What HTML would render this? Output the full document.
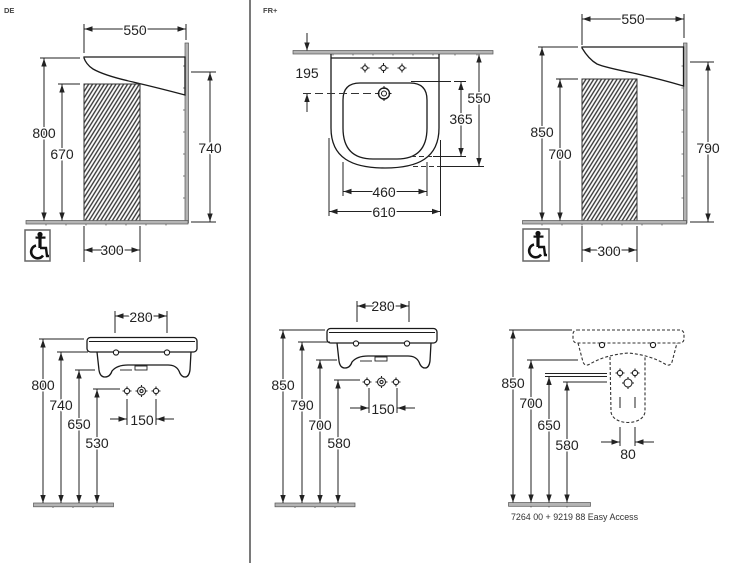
<!DOCTYPE html>
<html><head><meta charset="utf-8"><style>
html,body{margin:0;padding:0;background:#fff;}
svg{display:block;}
.t{font-family:"Liberation Sans",Arial,sans-serif;font-size:14px;fill:#222;text-anchor:middle;stroke:#fff;stroke-width:3px;paint-order:stroke;stroke-linejoin:round;}
.s{font-family:"Liberation Sans",Arial,sans-serif;font-size:7.5px;fill:#444;font-weight:bold;}
.d{stroke:#222;stroke-width:1;fill:none;}
.o{stroke:#1a1a1a;stroke-width:1.3;fill:none;}
.bar{fill:#b4b4b4;stroke:#555;stroke-width:0.7;}
.dash{stroke:#333;stroke-width:1.1;fill:none;stroke-dasharray:3 2;}
.tk{stroke:#555;stroke-width:0.8;fill:none;}
</style></head><body>
<svg width="750" height="563" viewBox="0 0 750 563" xmlns="http://www.w3.org/2000/svg">
<defs>
<marker id="a" viewBox="0 0 8 6" refX="8" refY="3" markerWidth="8" markerHeight="6" markerUnits="userSpaceOnUse" orient="auto-start-reverse"><path d="M0,0.3 L8,3 L0,5.7 z" fill="#222"/></marker>
<pattern id="h" width="3.3" height="10" patternUnits="userSpaceOnUse" patternTransform="rotate(32)"><rect width="3.3" height="10" fill="#fff"/><line x1="1" y1="0" x2="1" y2="10" stroke="#333" stroke-width="1.35"/></pattern>
</defs>

<!-- separator -->
<line x1="250" y1="0" x2="250" y2="563" stroke="#7a7a7a" stroke-width="2"/>

<!-- ================= TOP LEFT (DE) ================= -->
<text class="s" x="4" y="13">DE</text>
<line class="d" x1="84" y1="24" x2="84" y2="53"/>
<line class="d" x1="186" y1="24" x2="186" y2="40"/>
<line class="d" x1="84.5" y1="29" x2="185.5" y2="29" marker-start="url(#a)" marker-end="url(#a)"/>
<text class="t" x="135" y="35">550</text>

<rect class="bar" x="185" y="43" width="3.5" height="180"/>
<path class="tk" d="M185,66h-2M185,88h-2M185,110h-2M185,132h-2M185,154h-2M185,176h-2M185,198h-2"/>
<path class="o" fill="#fff" d="M84,57 L185,57 L185,95 C170,91 150,86 133,82 C115,78 100,73 93,69 C88,66 85,61 84,58 Z"/>
<rect x="84" y="84" width="56" height="137" fill="url(#h)" stroke="#333" stroke-width="1"/>
<rect class="bar" x="26" y="220.5" width="162" height="3.5"/>
<path class="tk" d="M46,224v1.5M66,224v1.5M86,224v1.5M106,224v1.5M126,224v1.5M146,224v1.5M166,224v1.5"/>

<line class="d" x1="40" y1="58" x2="80" y2="58"/>
<line class="d" x1="44" y1="58.5" x2="44" y2="220.5" marker-start="url(#a)" marker-end="url(#a)"/>
<text class="t" x="44" y="138">800</text>
<line class="d" x1="58" y1="84" x2="80" y2="84"/>
<line class="d" x1="62" y1="84.5" x2="62" y2="220.5" marker-start="url(#a)" marker-end="url(#a)"/>
<text class="t" x="62" y="159">670</text>
<line class="d" x1="191" y1="72" x2="216" y2="72"/>
<line class="d" x1="191" y1="222" x2="216" y2="222"/>
<line class="d" x1="210" y1="72.5" x2="210" y2="221.5" marker-start="url(#a)" marker-end="url(#a)"/>
<text class="t" x="210" y="153">740</text>
<line class="d" x1="84" y1="226" x2="84" y2="262"/>
<line class="d" x1="140" y1="226" x2="140" y2="262"/>
<line class="d" x1="84.5" y1="250" x2="139.5" y2="250" marker-start="url(#a)" marker-end="url(#a)"/>
<text class="t" x="112" y="255">300</text>

<g transform="translate(25,230)">
<rect x="0" y="0" width="25" height="31" fill="#fff" stroke="#666" stroke-width="1.5"/>
<circle cx="15" cy="4.5" r="2.6" fill="#111"/>
<rect x="10.5" y="6.5" width="10" height="2.2" fill="#111"/>
<line x1="15" y1="8" x2="15" y2="18" stroke="#111" stroke-width="3.2"/>
<path d="M15,18 H21 L22,26 H24" stroke="#111" stroke-width="2.4" fill="none"/>
<path d="M11,15.5 A6.5,6.5 0 1 0 18,25.5" stroke="#111" stroke-width="2.6" fill="none"/>
</g>

<!-- ================= TOP MIDDLE (FR+) ================= -->
<text class="s" x="263" y="13">FR+</text>
<rect class="bar" x="293" y="50.5" width="200" height="3.5"/>
<path class="tk" d="M333,54v1.5M353,54v1.5M373,54v1.5M393,54v1.5M413,54v1.5M433,54v1.5M455,54v1.5M477,54v1.5"/>
<path class="o" fill="#fff" d="M331,54 L331,128 C331,158 352,168 385,168 C418,168 439,158 439,128 L439,54"/>
<line class="o" x1="331" y1="58" x2="439" y2="58"/>
<g stroke="#222" stroke-width="1.1" fill="none">
<circle cx="365" cy="68" r="2.3"/><path d="M365,63.5v2M365,70.5v2M360.5,68h2M367.5,68h2"/>
<circle cx="383.5" cy="68" r="2.6"/><path d="M383.5,63v2.2M383.5,70.8v2.2M378.5,68h2.2M386.3,68h2.2"/>
<circle cx="402" cy="68" r="2.3"/><path d="M402,63.5v2M402,70.5v2M397.5,68h2M404.5,68h2"/>
</g>
<path class="o" d="M360,83 L410,83 Q427,83 427,100 L427,128 Q427,159 397,159 L373,159 Q343,159 343,128 L343,100 Q343,83 360,83 Z"/>
<circle cx="384" cy="93.5" r="5.5" fill="#fff" stroke="#1a1a1a" stroke-width="1.4"/>
<circle cx="384" cy="93.5" r="2.5" fill="none" stroke="#1a1a1a" stroke-width="1"/>
<path d="M384,86v3M384,98v3M376.5,93.5h3M388.5,93.5h3" stroke="#1a1a1a" stroke-width="1"/>
<line x1="303" y1="93.5" x2="377" y2="93.5" stroke="#333" stroke-width="1.1" stroke-dasharray="8 4"/>

<line class="d" x1="307" y1="33" x2="307" y2="50.5" marker-end="url(#a)"/>
<line class="d" x1="307" y1="112" x2="307" y2="94" marker-end="url(#a)"/>
<text class="t" x="307" y="78">195</text>

<line class="d" x1="479" y1="54.5" x2="479" y2="166" marker-start="url(#a)" marker-end="url(#a)"/>
<line x1="413" y1="166.5" x2="440" y2="166.5" stroke="#333" stroke-width="1.1" stroke-dasharray="5 3"/>
<line class="d" x1="441" y1="166.5" x2="484" y2="166.5"/>
<text class="t" x="479" y="103">550</text>

<line class="d" x1="411" y1="81.5" x2="451" y2="81.5" stroke-width="1.3"/>
<line class="d" x1="454" y1="81.5" x2="466" y2="81.5"/>
<line x1="411" y1="156.5" x2="432" y2="156.5" stroke="#333" stroke-width="1.1" stroke-dasharray="5 3"/>
<line class="d" x1="433" y1="156.5" x2="466" y2="156.5"/>
<line class="d" x1="461" y1="82" x2="461" y2="156" marker-start="url(#a)" marker-end="url(#a)"/>
<text class="t" x="461" y="124">365</text>

<line class="d" x1="343" y1="162" x2="343" y2="196"/>
<line class="d" x1="427" y1="162" x2="427" y2="196"/>
<line class="d" x1="343.5" y1="191.5" x2="426.5" y2="191.5" marker-start="url(#a)" marker-end="url(#a)"/>
<text class="t" x="384" y="197">460</text>

<line class="d" x1="329" y1="138" x2="329" y2="216"/>
<line class="d" x1="440.5" y1="140" x2="440.5" y2="216"/>
<line class="d" x1="329.5" y1="211.5" x2="440" y2="211.5" marker-start="url(#a)" marker-end="url(#a)"/>
<text class="t" x="384" y="217">610</text>

<!-- ================= TOP RIGHT ================= -->
<line class="d" x1="582" y1="14" x2="582" y2="45"/>
<line class="d" x1="684" y1="14" x2="684" y2="38"/>
<line class="d" x1="582.5" y1="19" x2="683.5" y2="19" marker-start="url(#a)" marker-end="url(#a)"/>
<text class="t" x="633" y="24">550</text>

<rect class="bar" x="683.5" y="43" width="3.5" height="180"/>
<path class="tk" d="M683.5,66h-2M683.5,88h-2M683.5,110h-2M683.5,132h-2M683.5,154h-2M683.5,176h-2M683.5,198h-2"/>
<path class="o" fill="#fff" d="M582,47 L683.5,47 L683.5,86 C670,82 655,78 633,73 C618,70 604,67 597,64 C590,60 585,53 582,48 Z"/>
<rect x="582" y="79" width="55" height="142" fill="url(#h)" stroke="#333" stroke-width="1"/>
<rect class="bar" x="522.5" y="220.5" width="164" height="3.5"/>
<path class="tk" d="M542,224v1.5M562,224v1.5M582,224v1.5M602,224v1.5M622,224v1.5M642,224v1.5M662,224v1.5"/>

<line class="d" x1="538" y1="47" x2="578" y2="47"/>
<line class="d" x1="542" y1="47.5" x2="542" y2="220.5" marker-start="url(#a)" marker-end="url(#a)"/>
<text class="t" x="542" y="137">850</text>
<line class="d" x1="556" y1="79" x2="578" y2="79"/>
<line class="d" x1="560" y1="79.5" x2="560" y2="220.5" marker-start="url(#a)" marker-end="url(#a)"/>
<text class="t" x="560" y="159">700</text>
<line class="d" x1="690" y1="62" x2="714" y2="62"/>
<line class="d" x1="690" y1="222" x2="714" y2="222"/>
<line class="d" x1="708" y1="62.5" x2="708" y2="221.5" marker-start="url(#a)" marker-end="url(#a)"/>
<text class="t" x="708" y="153">790</text>
<line class="d" x1="582" y1="226" x2="582" y2="262"/>
<line class="d" x1="637" y1="226" x2="637" y2="262"/>
<line class="d" x1="582.5" y1="250" x2="636.5" y2="250" marker-start="url(#a)" marker-end="url(#a)"/>
<text class="t" x="609" y="256">300</text>

<g transform="translate(523,229)">
<rect x="0" y="0" width="26" height="32" fill="#fff" stroke="#666" stroke-width="1.5"/>
<circle cx="15" cy="4.5" r="2.6" fill="#111"/>
<rect x="10.5" y="6.5" width="10" height="2.2" fill="#111"/>
<line x1="15" y1="8" x2="15" y2="18" stroke="#111" stroke-width="3.2"/>
<path d="M15,18 H21 L22,26 H24" stroke="#111" stroke-width="2.4" fill="none"/>
<path d="M11,15.5 A6.5,6.5 0 1 0 18,25.5" stroke="#111" stroke-width="2.6" fill="none"/>
</g>

<!-- ================= BOTTOM LEFT ================= -->
<g id="fb">
<rect x="87" y="337.5" width="110" height="14.5" rx="3.5" fill="#fff" stroke="#1a1a1a" stroke-width="1.3"/>
<line x1="89" y1="341.5" x2="195" y2="341.5" stroke="#1a1a1a" stroke-width="1"/>
<path class="o" fill="#fff" d="M97,352 L99,370 Q100,377 105,377 Q110,377 112,371 Q117,365 128,365 L168,365 Q176,365 179,371 Q181,377 185,377 Q189,377 190,370 L191,352"/>
<circle cx="116" cy="352.5" r="2.6" fill="#fff" stroke="#1a1a1a" stroke-width="1.1"/>
<circle cx="167" cy="352.5" r="2.6" fill="#fff" stroke="#1a1a1a" stroke-width="1.1"/>
<rect x="135" y="366" width="12" height="4" fill="#fff" stroke="#222" stroke-width="0.9"/>
<line x1="120" y1="370" x2="132" y2="370" stroke="#333" stroke-width="1"/>
<g stroke="#222" stroke-width="1.1" fill="none">
<circle cx="127" cy="391" r="2.6"/><path d="M127,386.5v2M127,393.5v2M122.5,391h2M129.5,391h2"/>
<circle cx="141.5" cy="391" r="4"/><circle cx="141.5" cy="391" r="1.6"/><path d="M141.5,385v2M141.5,395v2M135.5,391h2M145.5,391h2"/>
<circle cx="156" cy="391" r="2.6"/><path d="M156,386.5v2M156,393.5v2M151.5,391h2M158.5,391h2"/>
</g>
</g>
<line class="d" x1="115" y1="311" x2="115" y2="333"/>
<line class="d" x1="167" y1="311" x2="167" y2="333"/>
<line class="d" x1="115.5" y1="316" x2="166.5" y2="316" marker-start="url(#a)" marker-end="url(#a)"/>
<text class="t" x="141" y="322">280</text>

<rect class="bar" x="33.5" y="503" width="80" height="3.8"/>
<path class="tk" d="M53,506.8v1.2M73,506.8v1.2M93,506.8v1.2"/>
<line class="d" x1="39" y1="339" x2="84" y2="339"/>
<line class="d" x1="43" y1="339.5" x2="43" y2="503" marker-start="url(#a)" marker-end="url(#a)"/>
<text class="t" x="43" y="390">800</text>
<line class="d" x1="57" y1="352" x2="88" y2="352"/>
<line class="d" x1="61" y1="352.5" x2="61" y2="503" marker-start="url(#a)" marker-end="url(#a)"/>
<text class="t" x="61" y="410">740</text>
<line class="d" x1="75" y1="370" x2="95" y2="370"/>
<line class="d" x1="79" y1="370.5" x2="79" y2="503" marker-start="url(#a)" marker-end="url(#a)"/>
<text class="t" x="79" y="429">650</text>
<line class="d" x1="93" y1="389" x2="120" y2="389"/>
<line class="d" x1="97" y1="389.5" x2="97" y2="503" marker-start="url(#a)" marker-end="url(#a)"/>
<text class="t" x="97" y="448">530</text>

<line class="d" x1="127" y1="399" x2="127" y2="425"/>
<line class="d" x1="156" y1="399" x2="156" y2="425"/>
<line class="d" x1="110" y1="419" x2="126.5" y2="419" marker-end="url(#a)"/>
<line class="d" x1="174" y1="419" x2="156.5" y2="419" marker-end="url(#a)"/>
<text class="t" x="142" y="425">150</text>

<!-- ================= BOTTOM MIDDLE ================= -->
<use href="#fb" transform="translate(240,-9)"/>
<line class="d" x1="357" y1="301" x2="357" y2="322"/>
<line class="d" x1="409" y1="301" x2="409" y2="322"/>
<line class="d" x1="357.5" y1="306" x2="408.5" y2="306" marker-start="url(#a)" marker-end="url(#a)"/>
<text class="t" x="383" y="311">280</text>

<rect class="bar" x="275" y="503" width="80" height="3.8"/>
<path class="tk" d="M295,506.8v1.2M315,506.8v1.2M335,506.8v1.2"/>
<line class="d" x1="279" y1="330" x2="325" y2="330"/>
<line class="d" x1="283" y1="330.5" x2="283" y2="503" marker-start="url(#a)" marker-end="url(#a)"/>
<text class="t" x="283" y="390">850</text>
<line class="d" x1="298" y1="342" x2="330" y2="342"/>
<line class="d" x1="302" y1="342.5" x2="302" y2="503" marker-start="url(#a)" marker-end="url(#a)"/>
<text class="t" x="302" y="410">790</text>
<line class="d" x1="316" y1="360" x2="337" y2="360"/>
<line class="d" x1="320" y1="360.5" x2="320" y2="503" marker-start="url(#a)" marker-end="url(#a)"/>
<text class="t" x="320" y="430">700</text>
<line class="d" x1="334" y1="380" x2="360" y2="380"/>
<line class="d" x1="338" y1="380.5" x2="338" y2="503" marker-start="url(#a)" marker-end="url(#a)"/>
<text class="t" x="339" y="448">580</text>

<line class="d" x1="369" y1="388" x2="369" y2="413"/>
<line class="d" x1="397" y1="388" x2="397" y2="413"/>
<line class="d" x1="350" y1="408" x2="368.5" y2="408" marker-end="url(#a)"/>
<line class="d" x1="415" y1="408" x2="397.5" y2="408" marker-end="url(#a)"/>
<text class="t" x="383" y="414">150</text>

<!-- ================= BOTTOM RIGHT ================= -->
<rect x="573" y="330" width="111" height="13" rx="4" class="dash"/>
<path class="dash" d="M578,343 L583,362 Q585,367 590,364 Q605,355 628,353 Q650,355 665,364 Q670,367 672,362 L677,343"/>
<circle cx="602" cy="345" r="2.6" fill="#fff" stroke="#1a1a1a" stroke-width="1.1"/>
<circle cx="653" cy="345" r="2.6" fill="#fff" stroke="#1a1a1a" stroke-width="1.1"/>
<path class="dash" d="M610,357 L611,412 C613,426 643,426 645,412 L645,357"/>
<g stroke="#222" stroke-width="1.1" fill="none">
<circle cx="620" cy="373" r="2.6"/><path d="M620,368.5v2M620,375.5v2M615.5,373h2M622.5,373h2"/>
<circle cx="635" cy="373" r="2.6"/><path d="M635,368.5v2M635,375.5v2M630.5,373h2M637.5,373h2"/>
<circle cx="628" cy="383" r="4"/><path d="M628,377v2M628,387v2M622,383h2M632,383h2"/>
</g>
<line class="d" x1="620" y1="397" x2="620" y2="408"/>
<line class="d" x1="635" y1="397" x2="635" y2="408"/>

<line class="d" x1="620" y1="427" x2="620" y2="446"/>
<line class="d" x1="635" y1="427" x2="635" y2="446"/>
<line class="d" x1="601" y1="442" x2="619.5" y2="442" marker-end="url(#a)"/>
<line class="d" x1="654" y1="442" x2="635.5" y2="442" marker-end="url(#a)"/>
<text class="t" x="628" y="459">80</text>

<rect class="bar" x="508.5" y="502.5" width="82" height="3.8"/>
<path class="tk" d="M531,506.3v1.2M549,506.3v1.2M567,506.3v1.2"/>
<line class="d" x1="509" y1="330" x2="572" y2="330"/>
<line class="d" x1="513" y1="330.5" x2="513" y2="502.5" marker-start="url(#a)" marker-end="url(#a)"/>
<text class="t" x="513" y="388">850</text>
<line class="d" x1="527" y1="360" x2="578" y2="360"/>
<line class="d" x1="531" y1="360.5" x2="531" y2="502.5" marker-start="url(#a)" marker-end="url(#a)"/>
<text class="t" x="531" y="408">700</text>
<line class="d" x1="545" y1="373.5" x2="607" y2="373.5"/>
<line class="d" x1="545" y1="376.5" x2="607" y2="376.5"/>
<line class="d" x1="549" y1="377" x2="549" y2="502.5" marker-start="url(#a)" marker-end="url(#a)"/>
<text class="t" x="549" y="430">650</text>
<line class="d" x1="563" y1="382" x2="607" y2="382"/>
<line class="d" x1="567" y1="382.5" x2="567" y2="502.5" marker-start="url(#a)" marker-end="url(#a)"/>
<text class="t" x="567" y="450">580</text>

<text x="511" y="520" style="font-family:'Liberation Sans',Arial,sans-serif;font-size:8.9px;fill:#333;">7264 00 + 9219 88 Easy Access</text>
</svg>
</body></html>
